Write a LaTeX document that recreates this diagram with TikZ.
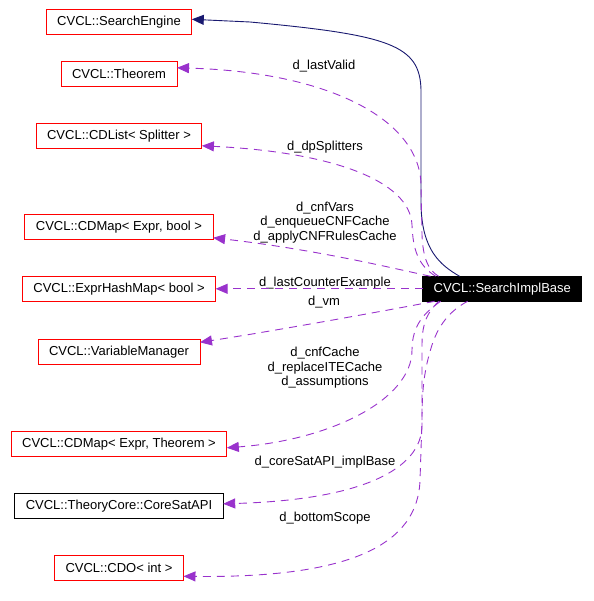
\documentclass[tikz,border=0pt]{standalone}
\usepackage{fontspec}
\setmainfont{Liberation Sans}
\usetikzlibrary{positioning,arrows.meta}
\definecolor{navyedge}{RGB}{25,25,112}
\definecolor{orchidedge}{RGB}{153,50,204}

\begin{document}
\begin{tikzpicture}[
  x=1pt, y=-1pt,
  font=\fontsize{13}{14.5}\selectfont,
  box/.style={draw=red, rectangle, line width=0.9pt, minimum height=25pt, inner xsep=11pt, inner ysep=0pt, outer sep=0pt, fill=white},
  plainbox/.style={box, draw=black},
  mainbox/.style={box, draw=black, fill=black, text=white},
  member/.style={draw=orchidedge, line width=0.9pt, dash pattern=on 8pt off 6pt, -{Triangle[length=12pt,width=10pt,fill=orchidedge]}},
  inherit/.style={draw=navyedge, line width=0.9pt, -{Triangle[length=12pt,width=10pt,fill=navyedge]}},
  lbl/.style={align=center, inner sep=0pt}
]
\useasboundingbox (0,0) rectangle (593,601);

\node[box] (engine) at (119,21.8) {CVCL::SearchEngine};
\node[box, below=27pt of engine] (theorem) {CVCL::Theorem};
\node[box, below=37pt of theorem] (splitters) {CVCL::CDList< Splitter >};
\node[box, below=66pt of splitters] (cnfmap) {CVCL::CDMap< Expr, bool >};
\node[box, below=37pt of cnfmap] (hashmap) {CVCL::ExprHashMap< bool >};
\node[box, below=38pt of hashmap] (varmgr) {CVCL::VariableManager};
\node[box, below=67pt of varmgr] (thmmap) {CVCL::CDMap< Expr, Theorem >};
\node[plainbox, below=37pt of thmmap] (coresat) {CVCL::TheoryCore::CoreSatAPI};
\node[box, below=37pt of coresat] (cdo) {CVCL::CDO< int >};
\node[mainbox, right=207pt of hashmap] (impl) {CVCL::SearchImplBase};

\node[lbl] (lvalid) at (324,65.7) {d\_lastValid};
\node[lbl] (lsplit) at (325,146.7) {d\_dpSplitters};
\node[lbl] (lcnf) at (325,222.5) {d\_cnfVars\\d\_enqueueCNFCache\\d\_applyCNFRulesCache};
\node[lbl] (lcounter) at (325,282.7) {d\_lastCounterExample};
\node[lbl] (lvm) at (324,302.3) {d\_vm};
\node[lbl] (lcache) at (325,368) {d\_cnfCache\\d\_replaceITECache\\d\_assumptions};
\node[lbl] (lcore) at (325,462.3) {d\_coreSatAPI\_implBase};
\node[lbl] (lscope) at (325,518.3) {d\_bottomScope};

% base class
\draw[inherit] ([xshift=37pt]impl.north west) .. controls (440,265) and (422,250) .. (421,205)
  -- (421,90) .. controls (420,45) and (390,35) .. (250,22) -- ([yshift=2.5pt]engine.east);

% members
\draw[member] ([xshift=16pt]impl.north west) .. controls (428,270) and (423,258) .. (422,235)
  -- (421,185) .. controls (420,120) and (330,72) .. ([yshift=6pt]theorem.east);
\draw[member] ([xshift=13pt]impl.north west) .. controls (418,265) and (413,250) .. (412,225)
  .. controls (410,180) and (330,152) .. ([yshift=-10pt]splitters.east);
\draw[member] ([xshift=8pt]impl.north west) .. controls (400,270) and (320,250) .. ([yshift=-11pt]cnfmap.east);
\draw[member] (impl.west) -- (hashmap.east);
\draw[member] ([xshift=12pt]impl.south west) .. controls (400,308) and (280,330) .. ([yshift=9.5pt]varmgr.east);
\draw[member] ([xshift=18pt]impl.south west) .. controls (425,312) and (412,325) .. (412,350)
  .. controls (412,400) and (330,440) .. ([yshift=-4pt]thmmap.east);
\draw[member] ([xshift=16pt]impl.south west) .. controls (428,312) and (422,322) .. (422,345)
  -- (422,425) .. controls (422,470) and (360,500) .. ([yshift=2pt]coresat.east);
\draw[member] ([xshift=45pt]impl.south west) .. controls (455,308) and (440,320) .. (432,345)
  .. controls (424,370) and (422,390) .. (422,420) -- (420,480)
  .. controls (418,545) and (350,578) .. ([yshift=-8.5pt]cdo.east);
\end{tikzpicture}
\end{document}
